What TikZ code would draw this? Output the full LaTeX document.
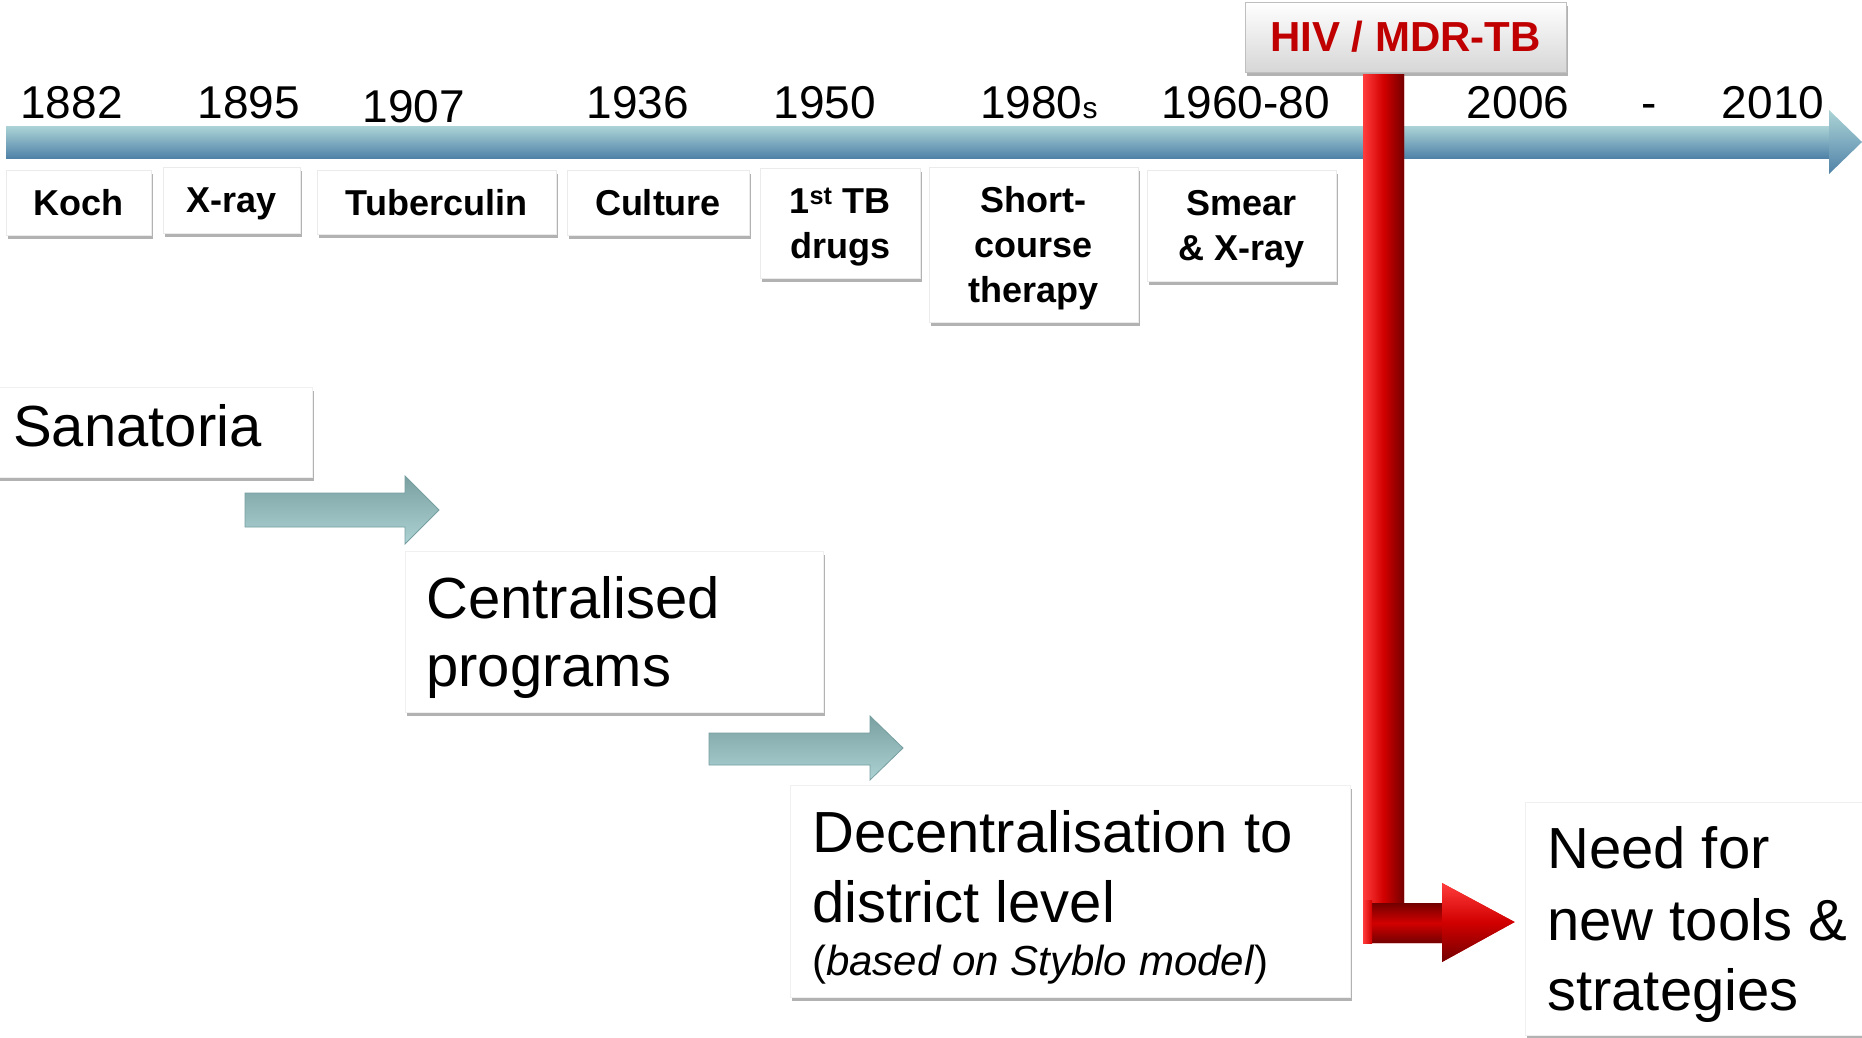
\documentclass[tikz,border=0pt]{standalone}
\usepackage{fontspec}
\setmainfont{Liberation Sans}
\usetikzlibrary{shadows,calc}

\definecolor{barTop}{RGB}{172,212,214}
\definecolor{barBot}{RGB}{80,130,168}
\definecolor{tealTop}{RGB}{122,160,162}
\definecolor{tealBot}{RGB}{172,210,212}
\definecolor{tealEdge}{RGB}{118,158,160}
\definecolor{redMain}{RGB}{210,0,0}
\definecolor{redLight}{RGB}{255,60,60}
\definecolor{redDark}{RGB}{115,0,0}
\definecolor{hivRed}{RGB}{192,0,0}

\tikzset{
  shadowed/.style={drop shadow={shadow xshift=1.5pt, shadow yshift=-3.5pt, fill=black, opacity=0.3}},
  evbox/.style={draw=black!8, fill=white, line width=0.8pt, inner sep=0pt, align=center, text depth=0pt,
     font=\fontsize{36}{45}\selectfont\bfseries, shadowed},
  year/.style={font=\fontsize{46}{46}\selectfont, inner sep=0pt, anchor=base},
  bigbox/.style={draw=black!6, fill=white, line width=0.8pt, inner sep=0pt, shadowed},
  bigtext/.style={font=\fontsize{58}{70}\selectfont, inner sep=0pt, anchor=base west},
  smalltext/.style={font=\fontsize{42}{50}\selectfont, inner sep=0pt, anchor=base west},
  tealarrow/.style={top color=tealTop, bottom color=tealBot, draw=tealEdge, line width=0.8pt},
  barshade/.style={top color=barTop, bottom color=barBot},
}

\begin{document}
\begin{tikzpicture}[x=1pt,y=-1pt]
\useasboundingbox[fill=white] (0,0) rectangle (1862,1037);

% timeline arrow
\coordinate (tlstart) at (6,142);
\coordinate (tlend) at (1862,142);
\path[barshade] (6,126) rectangle (1830,158);
\path[barshade] (1829,110) -- (tlend) -- (1829,174) -- cycle;

% years
\node[year] (y1882) at (71.5,118) {1882};
\node[year] (y1895) at (249,118) {1895};
\node[year] (y1907) at (414,122) {1907};
\node[year] (y1936) at (638,118) {1936};
\node[year] (y1950) at (825,118) {1950};
\node[year, anchor=base west] (y1980) at (980,118) {1980{\fontsize{30}{30}\selectfont s}};
\node[year, anchor=base west] (y1960) at (1161,118) {1960-80};
\node[year] (y2006) at (1518,118) {2006};
\node[year] (ydash) at (1649,118) {-};
\node[year] (y2010) at (1773,118) {2010};

% event boxes
\node[evbox, minimum width=145pt, minimum height=65pt] (koch) at (78.5,202.5) {Koch};
\node[evbox, minimum width=137pt, minimum height=66pt] (xray) at (231.5,200) {X-ray};
\node[evbox, minimum width=239pt, minimum height=64pt] (tuber) at (436.5,202) {Tuberculin};
\node[evbox, minimum width=182pt, minimum height=65pt] (culture) at (658,202.5) {Culture};
\node[evbox, minimum width=160pt, minimum height=110pt] (drugs) at (840,223) {1\textsuperscript{st} TB\\drugs};
\node[evbox, minimum width=209pt, minimum height=155pt] (short) at (1033.5,244.5) {Short-\\course\\therapy};
\node[evbox, minimum width=189pt, minimum height=111pt] (smear) at (1241.5,225.5) {Smear\\\& X-ray};

% stage boxes
\node[bigbox, minimum width=322pt, minimum height=90pt] (sanbox) at (151,432) {};
\node[bigtext] (san) at (13,446) {Sanatoria};

\node[bigbox, minimum width=418pt, minimum height=161pt] (cenbox) at (614,631.5) {};
\node[bigtext] (cen1) at (426,618) {Centralised};
\node[bigtext] (cen2) at (426,686) {programs};

\node[bigbox, minimum width=560pt, minimum height=212pt] (decbox) at (1070,891) {};
\node[bigtext] (dec1) at (812,852) {Decentralisation to};
\node[bigtext] (dec2) at (812,922) {district level};
\node[smalltext] (dec3) at (812,975) {(\textit{based on Styblo model})};

\node[bigbox, minimum width=360pt, minimum height=233pt] (needbox) at (1705,918.5) {};
\node[bigtext] (need1) at (1547,868) {Need for};
\node[bigtext] (need2) at (1547,940) {new tools \&};
\node[bigtext] (need3) at (1547,1010) {strategies};

% teal stage arrows
\coordinate (a1tip) at (439,510);
\coordinate (a2tip) at (903,748);
\path[tealarrow] (245,493) -- (405,493) -- (405,476) -- (a1tip) -- (405,544) -- (405,527) -- (245,527) -- cycle;
\path[tealarrow] (709,733) -- (870,733) -- (870,716) -- (a2tip) -- (870,780) -- (870,765) -- (709,765) -- cycle;

% red L arrow from HIV box to "Need for" box
\node[draw=black!25, line width=0.8pt, top color=white, bottom color=black!16, minimum width=321pt, minimum height=70pt,
      inner sep=0pt, font=\fontsize{42}{42}\selectfont\bfseries, text=hivRed, shadowed] (hiv) at (1405.5,37) {HIV / MDR-TB};
\coordinate (rtop) at ($(hiv.south)+(-22,2)$);
\coordinate (rtip) at ($(needbox.west)+(-10,3.5)$);
\fill[redMain] (1363,74) -- (1404,74) -- (1404,903) -- (1442,903) -- (1442,883) -- (rtip) -- (1442,962) -- (1442,943) -- (1363,943) -- cycle;
\shade[left color=redLight, right color=redDark, middle color=redMain] (1363,74) rectangle (1404,935);
\shade[top color=redDark, bottom color=redMain] (1370,903) -- (1442,903) -- (1442,923) -- (1370,923) -- cycle;
\shade[top color=redMain, bottom color=redDark] (1370,923) -- (1442,923) -- (1442,943) -- (1363,943) -- (1363,935) -- cycle;
\shade[top color=redLight, bottom color=redMain] (1442,883) -- (rtip) -- (1442,922) -- cycle;
\shade[top color=redMain, bottom color=redDark] (1442,922) -- (rtip) -- (1442,962) -- cycle;
\shade[left color=redLight, right color=redMain] (1363,900) rectangle (1372,943);
\end{tikzpicture}
\end{document}
